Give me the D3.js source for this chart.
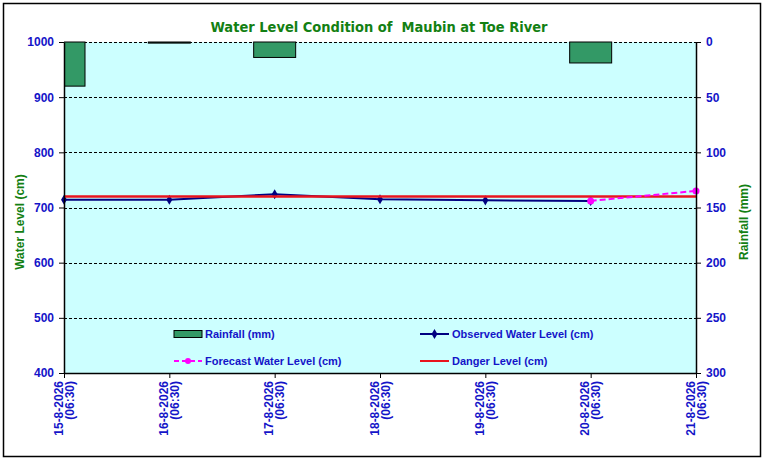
<!DOCTYPE html>
<html lang="en">
<head>
<meta charset="UTF-8">
<title>Water Level Condition of Maubin at Toe River</title>
<script src="https://d3js.org/d3.v7.min.js"></script>
<style>
    body { margin: 0; background: #fff; }
    svg { display: block; }
    .tick-lab { font-family: "Liberation Sans", Arial, sans-serif; font-weight: bold; fill: #1414C8; }
    .grid line { stroke: #000; stroke-dasharray: 3,2; stroke-width: 1; }
</style>
</head>
<body>
<svg width="766" height="462"></svg>
<script>
    // chart data
    const dates = ["15-8-2026", "16-8-2026", "17-8-2026", "18-8-2026", "19-8-2026", "20-8-2026", "21-8-2026"];
    const timeLabel = "(06:30)";
    const rainfall = [40, 1, 14, 0, 0, 19, 0];
    const observed = [714, 714, 724, 715, 713, 712];
    const forecastDates = ["20-8-2026", "21-8-2026"];
    const forecast = [712, 730];
    const dangerLevel = 720;
    const levelTicks = [400, 500, 600, 700, 800, 900, 1000];
    const rainTicks = [0, 50, 100, 150, 200, 250, 300];

    const svg = d3.select("svg");
    const plot = {left: 64, right: 696, top: 42, bottom: 373};
    const blue = "#1414C8", green = "#138013";

    // outer frame
    svg.append("rect")
        .attr("x", 3.5).attr("y", 3.5)
        .attr("width", 757).attr("height", 453)
        .attr("fill", "#fff").attr("stroke", "#000").attr("stroke-width", 1.5);

    const x = d3.scalePoint().domain(dates).range([plot.left, plot.right]);
    const yLevel = d3.scaleLinear().domain([400, 1000]).range([plot.bottom, plot.top]);
    const yRain = d3.scaleLinear().domain([0, 300]).range([plot.top, plot.bottom]);

    // plot background
    svg.append("rect")
        .attr("x", plot.left).attr("y", plot.top)
        .attr("width", plot.right - plot.left).attr("height", plot.bottom - plot.top)
        .attr("fill", "#CCFFFF");

    svg.append("clipPath").attr("id", "clip")
        .append("rect")
        .attr("x", plot.left).attr("y", plot.top - 1)
        .attr("width", plot.right - plot.left).attr("height", plot.bottom - plot.top + 1);

    // gridlines
    svg.append("g").attr("class", "grid")
        .selectAll("line")
        .data(levelTicks.filter(d => d > 400))
        .join("line")
        .attr("x1", plot.left).attr("x2", plot.right)
        .attr("y1", d => Math.round(yLevel(d)) + 0.5)
        .attr("y2", d => Math.round(yLevel(d)) + 0.5);

    // rainfall bars hanging from the top
    const barW = 42;
    svg.append("g").attr("clip-path", "url(#clip)")
        .selectAll("rect")
        .data(dates.map((d, i) => ({date: d, value: rainfall[i]})).filter(d => d.value > 0))
        .join("rect")
        .attr("x", d => x(d.date) - barW / 2)
        .attr("y", yRain(0))
        .attr("width", barW)
        .attr("height", d => yRain(d.value) - yRain(0))
        .attr("fill", "#339966")
        .attr("stroke", "#000")
        .attr("stroke-width", 1);

    // observed water level
    const obsData = observed.map((v, i) => ({date: dates[i], value: v}));
    const line = d3.line().x(d => x(d.date)).y(d => yLevel(d.value));
    svg.append("path")
        .datum(obsData)
        .attr("d", line)
        .attr("fill", "none")
        .attr("stroke", "#000080")
        .attr("stroke-width", 2);
    svg.append("g")
        .selectAll("path")
        .data(obsData)
        .join("path")
        .attr("transform", d => `translate(${x(d.date)},${yLevel(d.value)})`)
        .attr("d", d3.symbol(d3.symbolDiamond, 30))
        .attr("fill", "#000080");

    // danger level
    svg.append("line")
        .attr("x1", plot.left).attr("x2", plot.right)
        .attr("y1", yLevel(dangerLevel)).attr("y2", yLevel(dangerLevel))
        .attr("stroke", "#E8141E").attr("stroke-width", 2.5);

    // forecast water level
    const fcData = forecast.map((v, i) => ({date: forecastDates[i], value: v}));
    svg.append("path")
        .datum(fcData)
        .attr("d", line)
        .attr("fill", "none")
        .attr("stroke", "#FF00FF")
        .attr("stroke-width", 2)
        .attr("stroke-dasharray", "6,3");
    svg.append("g")
        .selectAll("circle")
        .data(fcData)
        .join("circle")
        .attr("cx", d => x(d.date))
        .attr("cy", d => yLevel(d.value))
        .attr("r", 3.5)
        .attr("fill", "#FF00FF");

    // left axis
    const leftAxis = svg.append("g")
        .attr("transform", `translate(${plot.left},0)`)
        .call(d3.axisLeft(yLevel).tickValues(levelTicks).tickFormat(d3.format("d"))
            .tickSize(5).tickSizeOuter(0).tickPadding(5));
    leftAxis.select(".domain").attr("stroke", "#000").attr("stroke-width", 1.5);
    leftAxis.selectAll(".tick text").attr("class", "tick-lab").attr("font-size", 12);

    // right axis
    const rightAxis = svg.append("g")
        .attr("transform", `translate(${plot.right},0)`)
        .call(d3.axisRight(yRain).tickValues(rainTicks).tickSize(5).tickSizeOuter(0).tickPadding(5));
    rightAxis.select(".domain").attr("stroke", "#000").attr("stroke-width", 1.5);
    rightAxis.selectAll(".tick text").attr("class", "tick-lab").attr("font-size", 12);

    // bottom axis
    const bottomAxis = svg.append("g")
        .attr("transform", `translate(0,${plot.bottom})`)
        .call(d3.axisBottom(x).tickSize(5).tickSizeOuter(0).tickFormat(""));
    bottomAxis.select(".domain").attr("stroke", "#000").attr("stroke-width", 1.5);
    bottomAxis.selectAll(".tick").each(function(d) {
        const t = d3.select(this).append("text")
            .attr("class", "tick-lab")
            .attr("font-size", 12)
            .attr("text-anchor", "end")
            .attr("transform", "translate(0,8) rotate(-90)");
        t.append("tspan").attr("x", 0).attr("y", -2).text(d);
        t.append("tspan").attr("x", 0).attr("y", 9).text(timeLabel);
    });

    // title
    svg.append("text")
        .attr("x", 379).attr("y", 32)
        .attr("text-anchor", "middle")
        .attr("font-family", "'DejaVu Sans Condensed', 'DejaVu Sans', sans-serif")
        .attr("font-weight", "bold")
        .attr("font-size", 14.5)
        .attr("fill", green)
        .attr("xml:space", "preserve")
        .text("Water Level Condition of  Maubin at Toe River");

    // axis titles
    svg.append("text")
        .attr("transform", "translate(24,222) rotate(-90)")
        .attr("text-anchor", "middle")
        .attr("font-family", "'Liberation Sans', Arial, sans-serif")
        .attr("font-weight", "bold").attr("font-size", 12)
        .attr("fill", green)
        .text("Water Level (cm)");
    svg.append("text")
        .attr("transform", "translate(748,222) rotate(-90)")
        .attr("text-anchor", "middle")
        .attr("font-family", "'Liberation Sans', Arial, sans-serif")
        .attr("font-weight", "bold").attr("font-size", 12)
        .attr("fill", green)
        .text("Rainfall (mm)");

    // legend
    const legend = svg.append("g")
        .attr("font-family", "'Liberation Sans', Arial, sans-serif")
        .attr("font-weight", "bold").attr("font-size", 11)
        .attr("fill", blue);
    legend.append("rect")
        .attr("x", 174).attr("y", 330.5).attr("width", 28).attr("height", 7)
        .attr("fill", "#339966").attr("stroke", "#000");
    legend.append("text").attr("x", 205).attr("y", 338).text("Rainfall (mm)");

    legend.append("line").attr("x1", 420).attr("x2", 449).attr("y1", 334).attr("y2", 334)
        .attr("stroke", "#000080").attr("stroke-width", 2);
    legend.append("path").attr("transform", "translate(434.5,334)")
        .attr("d", d3.symbol(d3.symbolDiamond, 30)).attr("fill", "#000080");
    legend.append("text").attr("x", 452).attr("y", 338).text("Observed Water Level (cm)");

    legend.append("line").attr("x1", 174).attr("x2", 202).attr("y1", 361).attr("y2", 361)
        .attr("stroke", "#FF00FF").attr("stroke-width", 2).attr("stroke-dasharray", "5,3");
    legend.append("circle").attr("cx", 188).attr("cy", 361).attr("r", 3).attr("fill", "#FF00FF");
    legend.append("text").attr("x", 205).attr("y", 365).text("Forecast Water Level (cm)");

    legend.append("line").attr("x1", 420).attr("x2", 449).attr("y1", 361).attr("y2", 361)
        .attr("stroke", "#E8141E").attr("stroke-width", 2);
    legend.append("text").attr("x", 452).attr("y", 365).text("Danger Level (cm)");
</script>
</body>
</html>
